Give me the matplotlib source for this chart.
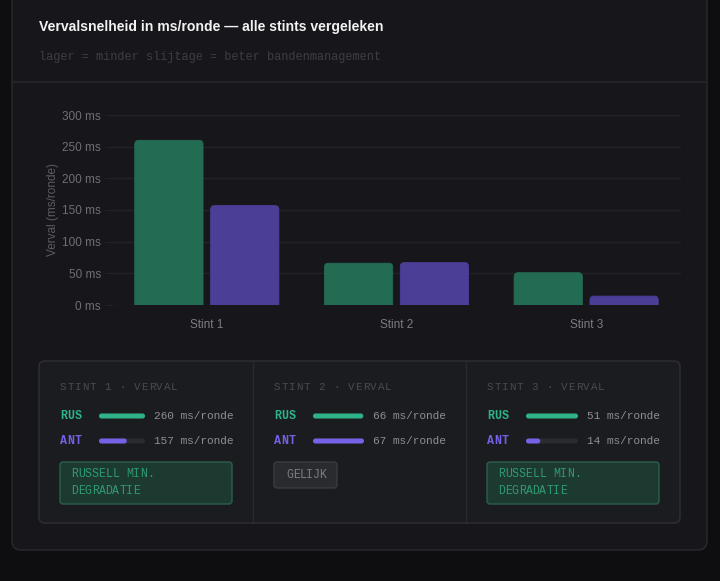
import matplotlib
matplotlib.use('Agg')
import matplotlib.pyplot as plt
from matplotlib.patches import FancyBboxPatch
import numpy as np

# data
stints = ['Stint 1', 'Stint 2', 'Stint 3']
rus = [260, 66, 51]
ant = [157, 67, 14]
yticks = [0, 50, 100, 150, 200, 250, 300]
badges = ['RUSSELL MIN.\nDEGRADATIE', 'GELIJK', 'RUSSELL MIN.\nDEGRADATIE']
badge_kind = ['green', 'grey', 'green']

title = 'Vervalsnelheid in ms/ronde \u2014 alle stints vergeleken'
subtitle = 'lager = minder slijtage = beter bandenmanagement'

# colours
BG = '#0e0e10'
CARD = '#17171b'
CARD_EDGE = '#2a2a2f'
GRID = '#232327'
GREEN_BAR = '#246b53'
PURPLE_BAR = '#4a3e96'
GREEN = '#2db387'
PURPLE = '#7462e6'
SANS = 'Liberation Sans'
MONO = 'Liberation Mono'

W, H = 720, 581
fig = plt.figure(figsize=(W / 100, H / 100), dpi=100, facecolor=BG)

# background canvas in pixel coords
bg = fig.add_axes([0, 0, 1, 1], zorder=0)
bg.set_xlim(0, W)
bg.set_ylim(H, 0)
bg.axis('off')
bg.set_facecolor(BG)


def rbox(x0, y0, x1, y1, r, fc, ec, lw=1.0, z=1):
    p = FancyBboxPatch((x0, y0), x1 - x0, y1 - y0,
                       boxstyle='round,pad=0,rounding_size=%g' % r,
                       fc=fc, ec=ec, lw=lw, zorder=z)
    bg.add_patch(p)


def mono(x, y, s, step, size, color, weight='normal'):
    # monospace text with letter spacing
    for i, ch in enumerate(s):
        bg.text(x + i * step, y, ch, ha='left', va='center', fontsize=size,
                color=color, family=MONO, weight=weight, zorder=5)


# card
rbox(12, -12, 707, 550, 9, CARD, CARD_EDGE, lw=1.0)
bg.plot([12.5, 706.5], [82, 82], color='#26262b', lw=1.2, zorder=2)

bg.text(39, 27, title, ha='left', va='center', fontsize=10.1, color='#f2f2f4',
        family=SANS, weight='bold', zorder=5)
bg.text(39, 57, subtitle, ha='left', va='center', fontsize=8.6, color='#3d3d43',
        family=MONO, zorder=5)

# chart
ax = fig.add_axes([112 / W, 1 - 305 / H, 569 / W, 190 / H], zorder=2)
ax.set_facecolor('none')
x = np.arange(len(stints))
bw = 0.36
xpp = 3 / 569.0
ypp = 300 / 190.0
for vals, off, col in [(rus, -0.2, GREEN_BAR), (ant, 0.2, PURPLE_BAR)]:
    bars = ax.bar(x + off, vals, width=bw, color='none')
    for b in bars:
        r = 4 * xpp
        p = FancyBboxPatch((b.get_x(), -10 * ypp), b.get_width(), b.get_height() + 10 * ypp,
                           boxstyle='round,pad=0,rounding_size=%g' % r,
                           mutation_aspect=ypp / xpp, fc=col, ec=col, lw=0.6,
                           zorder=3, clip_on=True)
        ax.add_patch(p)

ax.set_xlim(-0.5, 2.5)
ax.set_ylim(0, 300)
ax.set_yticks(yticks)
ax.set_yticklabels(['%d ms' % v for v in yticks])
ax.set_xticks(x)
ax.set_xticklabels(stints)
ax.grid(axis='y', color=GRID, lw=1.0, zorder=0)
ax.set_axisbelow(True)
for s in ax.spines.values():
    s.set_visible(False)
ax.tick_params(axis='y', length=5, color=GRID, pad=3, labelsize=8.5, labelcolor='#6e6e74')
ax.tick_params(axis='x', length=0, pad=10, labelsize=8.5, labelcolor='#7c7c82')
for lab in ax.get_xticklabels() + ax.get_yticklabels():
    lab.set_family(SANS)
ax.set_ylabel('Verval (ms/ronde)', fontsize=8.5, color='#5c5c62', family=SANS, labelpad=2)

# stats panel
rbox(39, 361, 680, 523, 6, '#1b1c20', '#2f3035', lw=1.0, z=1)
cols_x = [39, 253, 466]
for cx in cols_x[1:]:
    bg.plot([cx, cx], [361.5, 522.5], color='#2a2b30', lw=1.0, zorder=2)

track_end = [145, 364, 578]
for i in range(3):
    lx = cols_x[i] + 21
    ts = cols_x[i] + 60
    te = track_end[i]
    mono(lx, 387, 'STINT %d \u00b7 VERVAL' % (i + 1), 7.4, 7.8, '#4a4a50')
    top = max(rus[i], ant[i])
    for y, name, val, col in [(416, 'RUS', rus[i], GREEN), (441, 'ANT', ant[i], PURPLE)]:
        mono(lx, y, name, 7.5, 8.4, col, weight='bold')
        rbox(ts, y - 2.5, te, y + 2.5, 2.5, '#2a2b30', 'none', lw=0, z=3)
        fill_end = ts + (te - ts) * val / top
        rbox(ts, y - 2.5, fill_end, y + 2.5, 2.5, col, 'none', lw=0, z=4)
        bg.text(te + 9, y, '%d ms/ronde' % val, ha='left', va='center',
                fontsize=8.0, color='#8e8e94', family=MONO, zorder=5)
    if badge_kind[i] == 'green':
        rbox(lx, 462, lx + 172, 504, 3, '#1d3a31', '#2b5f4b', lw=1.0, z=3)
        for j, line in enumerate(badges[i].split('\n')):
            mono(lx + 11, 474 + j * 17.5, line, 6.9, 8.3, '#2f9a72')
    else:
        rbox(lx, 462, lx + 63, 488, 3, '#2a2b2f', '#3a3b40', lw=1.0, z=3)
        mono(lx + 12, 475, badges[i], 6.7, 8.3, '#7c7c82')

fig.savefig('out.png', dpi=100, facecolor=BG)
